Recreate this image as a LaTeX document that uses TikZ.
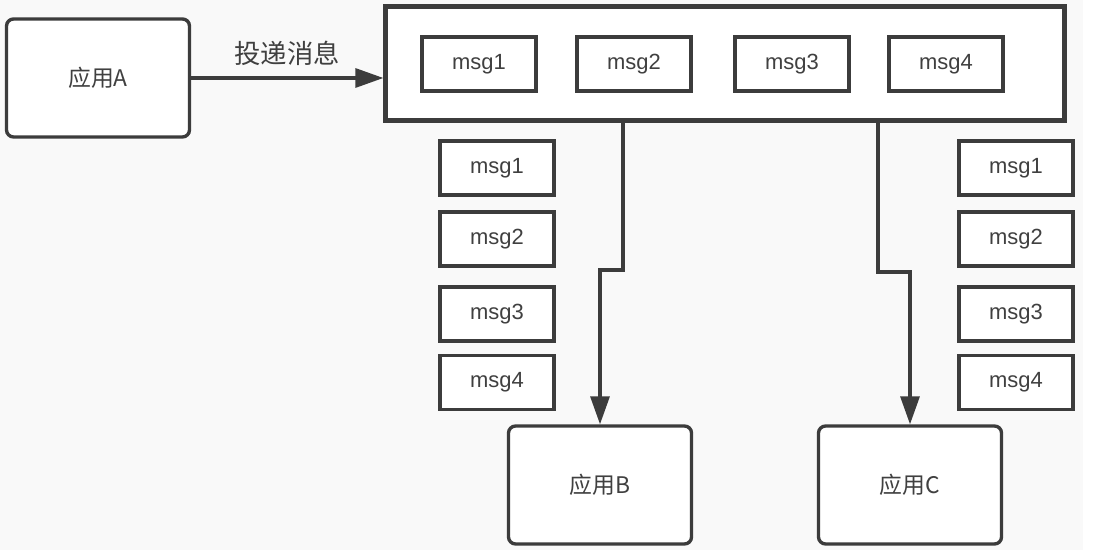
\documentclass[tikz,border=0pt]{standalone}
\usepackage{fontspec}
\setmainfont{Liberation Sans}
\newfontfamily\cjk{Noto Sans CJK SC}
\usepackage{tikz}
\usetikzlibrary{arrows.meta,backgrounds,positioning,calc}
\definecolor{linegray}{HTML}{3C3C3C}
\definecolor{bggray}{HTML}{F9F9F9}
\tikzstyle{app}=[draw=linegray, line width=1.9pt, fill=white, rounded corners=4pt, minimum width=3.66cm, minimum height=2.36cm, text=black!75, font=\cjk\fontsize{13}{15}\selectfont]
\tikzstyle{msg}=[draw=linegray, line width=1.8pt, fill=white, minimum width=2.28cm, minimum height=1.08cm, text=black!75, font=\fontsize{12.5}{15}\selectfont]
\tikzstyle{queue}=[draw=linegray, line width=2.4pt, fill=white, minimum width=13.58cm, minimum height=2.28cm]
\tikzstyle{arr}=[draw=linegray, line width=1.8pt, -{Triangle[length=0.56cm, width=0.38cm]}]

\begin{document}
\begin{tikzpicture}[font=\small]
      % page and background
      \useasboundingbox (0,0) rectangle (21.92,11);
      \fill[bggray] (0,0) rectangle (21.66,11);
      %
      \node at (1.96,9.44) [app] (appA) {应用A};
      \node at (14.5,9.73) [queue] (queue) {};
      \node at (9.58,9.72) [msg] (q1) {msg1};
      \node at (12.68,9.72) [msg] (q2) {msg2};
      \node at (15.84,9.72) [msg] (q3) {msg3};
      \node at (18.92,9.72) [msg] (q4) {msg4};
      %
      \node at (9.94,7.64) [msg] (l1) {msg1};
      \node at (9.94,6.22) [msg] (l2) {msg2};
      \node at (9.94,4.72) [msg] (l3) {msg3};
      \node at (9.94,3.35) [msg] (l4) {msg4};
      \node at (20.32,7.64) [msg] (r1) {msg1};
      \node at (20.32,6.22) [msg] (r2) {msg2};
      \node at (20.32,4.72) [msg] (r3) {msg3};
      \node at (20.32,3.35) [msg] (r4) {msg4};
      %
      \node at (12.0,1.3) [app] (appB) {应用B};
      \node at (18.2,1.3) [app] (appC) {应用C};
      %
      \draw[arr] (appA.east) -- node[above=3pt, text=black!75, font=\cjk\fontsize{15}{18}\selectfont] {投递消息} (appA.east -| queue.west);
      \coordinate (b1) at (12.46,5.6);
      \coordinate (c1) at (17.56,5.56);
      \draw[arr] (queue.south -| b1) -- (b1) -| (appB.north);
      \draw[arr] (queue.south -| c1) -- (c1) -| (appC.north);
      %
\end{tikzpicture}
\end{document}
